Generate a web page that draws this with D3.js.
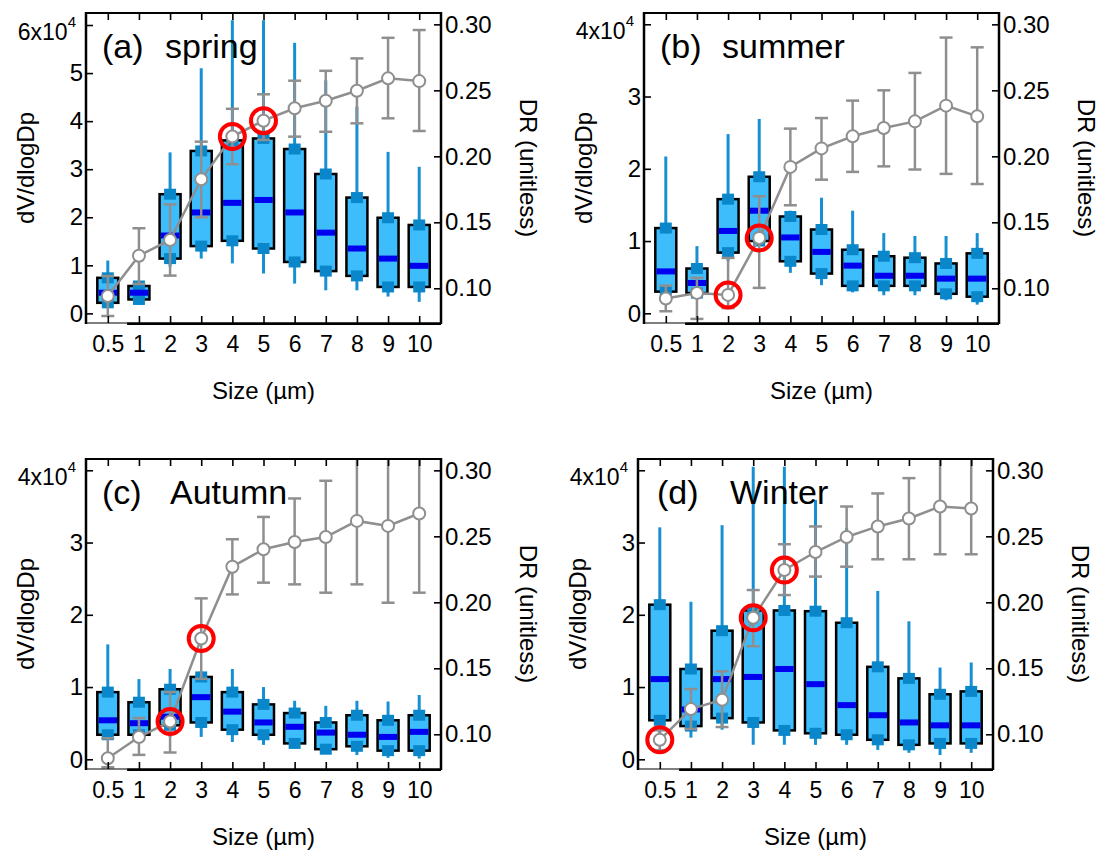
<!DOCTYPE html>
<html>
<head>
<meta charset="utf-8">
<script src="https://cdn.jsdelivr.net/npm/d3@7"></script>
<style>
  body { margin: 0; background: #fff; }
  text { font-family: "Liberation Sans", Arial, Helvetica, sans-serif; fill: #000; }
</style>
</head>
<body>
<svg id="chart" width="1101" height="854"></svg>
<script>
// Particle size bins (µm)
const sizes = ["0.5", "1", "2", "3", "4", "5", "6", "7", "8", "9", "10"];

// dV/dlogDp box statistics, in units of 10^4
const springLow  = [0.12, 0.18, 0.97, 1.14, 1.04, 0.83, 0.62, 0.48, 0.48, 0.35, 0.24];
const springQ1   = [0.22, 0.29, 1.14, 1.40, 1.51, 1.35, 1.07, 0.88, 0.78, 0.55, 0.55];
const springMed  = [0.43, 0.43, 1.62, 2.10, 2.30, 2.36, 2.10, 1.68, 1.35, 1.14, 0.99];
const springQ3   = [0.74, 0.57, 2.48, 3.38, 3.60, 3.64, 3.42, 2.90, 2.41, 1.99, 1.84];
const springHigh = [1.10, 0.66, 3.35, 5.10, 6.10, 6.10, 5.63, 4.85, 4.30, 3.36, 3.05];

const summerLow  = [0.20, 0.20, 0.72, 0.95, 0.56, 0.39, 0.29, 0.25, 0.25, 0.18, 0.12];
const summerQ1   = [0.30, 0.28, 0.84, 1.00, 0.72, 0.55, 0.38, 0.38, 0.38, 0.27, 0.23];
const summerMed  = [0.58, 0.42, 1.14, 1.42, 1.05, 0.85, 0.66, 0.52, 0.52, 0.48, 0.48];
const summerQ3   = [1.18, 0.62, 1.58, 1.89, 1.34, 1.16, 0.88, 0.79, 0.77, 0.69, 0.83];
const summerHigh = [2.17, 0.93, 2.48, 2.69, 1.42, 1.60, 1.42, 1.11, 1.07, 1.07, 1.11];

const autumnLow  = [0.27, 0.24, 0.31, 0.31, 0.24, 0.20, 0.17, 0.13, 0.06, 0.02, 0.01];
const autumnQ1   = [0.34, 0.34, 0.47, 0.51, 0.41, 0.34, 0.22, 0.14, 0.18, 0.12, 0.12];
const autumnMed  = [0.54, 0.50, 0.59, 0.86, 0.66, 0.51, 0.45, 0.37, 0.34, 0.31, 0.38];
const autumnQ3   = [0.93, 0.79, 0.97, 1.14, 0.93, 0.76, 0.64, 0.51, 0.61, 0.54, 0.61];
const autumnHigh = [1.59, 1.11, 1.25, 1.22, 1.25, 1.00, 0.81, 0.74, 0.81, 0.80, 0.89];

const winterLow  = [0.25, 0.30, 0.41, 0.20, 0.20, 0.20, 0.20, 0.13, 0.09, 0.06, 0.09];
const winterQ1   = [0.54, 0.46, 0.57, 0.51, 0.40, 0.36, 0.34, 0.27, 0.20, 0.22, 0.22];
const winterMed  = [1.11, 0.69, 1.11, 1.14, 1.25, 1.04, 0.75, 0.61, 0.51, 0.47, 0.47];
const winterQ3   = [2.14, 1.25, 1.78, 2.06, 2.06, 2.05, 1.89, 1.28, 1.12, 0.90, 0.94];
const winterHigh = [3.21, 2.18, 3.24, 4.05, 4.05, 3.59, 3.20, 2.33, 1.91, 1.27, 1.34];

// Depolarization ratio: mean and error-bar limits
const springDR   = [0.0942, 0.1247, 0.1366, 0.1826, 0.2150, 0.2270, 0.2364, 0.2421, 0.2497, 0.2591, 0.2570];
const springDRlo = [0.0790, 0.1033, 0.1096, 0.1538, 0.1940, 0.2124, 0.2149, 0.2186, 0.2250, 0.2288, 0.2192];
const springDRhi = [0.1093, 0.1455, 0.1636, 0.2111, 0.2360, 0.2470, 0.2573, 0.2648, 0.2742, 0.2898, 0.2957];

const summerDR   = [0.0922, 0.0965, 0.0950, 0.1382, 0.1920, 0.2060, 0.2152, 0.2215, 0.2265, 0.2384, 0.2303];
const summerDRlo = [0.0826, 0.0768, 0.0850, 0.1003, 0.1629, 0.1823, 0.1882, 0.1924, 0.1900, 0.1867, 0.1790];
const summerDRhi = [0.1020, 0.1079, 0.1230, 0.1697, 0.2210, 0.2290, 0.2422, 0.2500, 0.2632, 0.2900, 0.2826];

const autumnDR   = [0.0819, 0.0979, 0.1097, 0.1726, 0.2270, 0.2402, 0.2457, 0.2495, 0.2617, 0.2579, 0.2673];
const autumnDRlo = [0.0750, 0.0844, 0.0862, 0.1420, 0.2060, 0.2149, 0.2136, 0.2073, 0.2136, 0.1997, 0.2073];
const autumnDRhi = [0.0970, 0.1123, 0.1320, 0.2030, 0.2478, 0.2647, 0.2787, 0.2921, 0.3150, 0.3150, 0.3150];

const winterDR   = [0.0958, 0.1191, 0.1262, 0.1883, 0.2245, 0.2381, 0.2495, 0.2575, 0.2635, 0.2726, 0.2711];
const winterDRlo = [0.0880, 0.1040, 0.1055, 0.1667, 0.2055, 0.2195, 0.2270, 0.2326, 0.2326, 0.2364, 0.2364];
const winterDRhi = [0.1030, 0.1343, 0.1477, 0.2093, 0.2440, 0.2575, 0.2726, 0.2825, 0.2941, 0.3150, 0.3150];

// Size bins circled in red
const springMarked = ["4", "5"];
const summerMarked = ["2", "3"];
const autumnMarked = ["2", "3"];
const winterMarked = ["0.5", "3", "4"];

// Axis ticks
const drTicks = [0.10, 0.15, 0.20, 0.25, 0.30];
const springDvTicks = [0, 1, 2, 3, 4, 5, 6];
const dvTicks = [0, 1, 2, 3, 4];

const seasons = [
  { tag: "(a)", name: "spring", low: springLow, q1: springQ1, med: springMed, q3: springQ3, high: springHigh,
    dr: springDR, drLo: springDRlo, drHi: springDRhi, marked: springMarked, dvTicks: springDvTicks },
  { tag: "(b)", name: "summer", low: summerLow, q1: summerQ1, med: summerMed, q3: summerQ3, high: summerHigh,
    dr: summerDR, drLo: summerDRlo, drHi: summerDRhi, marked: summerMarked, dvTicks: dvTicks },
  { tag: "(c)", name: "Autumn", low: autumnLow, q1: autumnQ1, med: autumnMed, q3: autumnQ3, high: autumnHigh,
    dr: autumnDR, drLo: autumnDRlo, drHi: autumnDRhi, marked: autumnMarked, dvTicks: dvTicks },
  { tag: "(d)", name: "Winter", low: winterLow, q1: winterQ1, med: winterMed, q3: winterQ3, high: winterHigh,
    dr: winterDR, drLo: winterDRlo, drHi: winterDRhi, marked: winterMarked, dvTicks: dvTicks }
];

// Panel placement
const layout = [
  { x: 86,  y: 13,  dvDomain: [-0.2, 6.25],    tagX: 16, nameX: 79 },
  { x: 644, y: 13,  dvDomain: [-0.134, 4.156], tagX: 16, nameX: 78 },
  { x: 86,  y: 459, dvDomain: [-0.134, 4.156], tagX: 16, nameX: 84 },
  { x: 638, y: 459, dvDomain: [-0.134, 4.156], tagX: 19, nameX: 92 }
];

const W = 355, H = 310;
const boxFill = "#3DBDFC", squareFill = "#0A87CA", whiskerColor = "#1690D2",
      medianColor = "#0000F0", grey = "#8F8F8F", red = "#FF0000";

const svg = d3.select("#chart");

seasons.forEach((s, pi) => {
  const L = layout[pi];
  const g = svg.append("g").attr("transform", `translate(${L.x},${L.y})`);

  const x = d3.scalePoint().domain(sizes).range([0, W]).padding(0.7);
  const y = d3.scaleLinear().domain(L.dvDomain).range([H, 0]);
  const yDR = d3.scaleLinear().domain([0.0737, 0.3086]).range([H, 0]);

  const clipId = "clip" + pi;
  g.append("clipPath").attr("id", clipId)
    .append("rect").attr("x", 0).attr("y", 0).attr("width", W).attr("height", H);
  const plot = g.append("g").attr("clip-path", `url(#${clipId})`);

  const rows = sizes.map((k, i) => ({
    k, low: s.low[i], q1: s.q1[i], med: s.med[i], q3: s.q3[i], high: s.high[i],
    dr: s.dr[i], lo: s.drLo[i], hi: s.drHi[i]
  }));

  // whiskers
  plot.selectAll(".whisker").data(rows).enter().append("line")
    .attr("x1", d => x(d.k)).attr("x2", d => x(d.k))
    .attr("y1", d => y(d.low)).attr("y2", d => y(d.high))
    .attr("stroke", whiskerColor).attr("stroke-width", 3);

  // interquartile boxes
  const bw = 21;
  plot.selectAll(".box").data(rows).enter().append("rect")
    .attr("x", d => x(d.k) - bw / 2).attr("width", bw)
    .attr("y", d => y(d.q3)).attr("height", d => y(d.q1) - y(d.q3))
    .attr("fill", boxFill).attr("stroke", "#000").attr("stroke-width", 2.5);

  // quartile markers
  const sw = 12, sh = 11;
  ["q1", "q3"].forEach(q => {
    plot.selectAll(".sq" + q).data(rows).enter().append("rect")
      .attr("x", d => x(d.k) - sw / 2).attr("width", sw)
      .attr("y", d => y(d[q]) - sh / 2).attr("height", sh)
      .attr("fill", squareFill);
  });

  // medians
  plot.selectAll(".median").data(rows).enter().append("rect")
    .attr("x", d => x(d.k) - bw / 2 + 1.25).attr("width", bw - 2.5)
    .attr("y", d => y(d.med) - 3).attr("height", 6)
    .attr("fill", medianColor);

  // DR error bars
  const cap = 6.5;
  const eb = plot.selectAll(".err").data(rows).enter().append("g")
    .attr("stroke", grey).attr("stroke-width", 2.5).attr("fill", "none");
  eb.append("line").attr("x1", d => x(d.k)).attr("x2", d => x(d.k))
    .attr("y1", d => yDR(d.lo)).attr("y2", d => yDR(d.hi));
  eb.append("line").attr("x1", d => x(d.k) - cap).attr("x2", d => x(d.k) + cap)
    .attr("y1", d => yDR(d.lo)).attr("y2", d => yDR(d.lo));
  eb.append("line").attr("x1", d => x(d.k) - cap).attr("x2", d => x(d.k) + cap)
    .attr("y1", d => yDR(d.hi)).attr("y2", d => yDR(d.hi));

  // DR line and points
  plot.append("path").datum(rows)
    .attr("d", d3.line().x(d => x(d.k)).y(d => yDR(d.dr)))
    .attr("fill", "none").attr("stroke", grey).attr("stroke-width", 2.5);
  plot.selectAll(".pt").data(rows).enter().append("circle")
    .attr("cx", d => x(d.k)).attr("cy", d => yDR(d.dr)).attr("r", 6)
    .attr("fill", "#fff").attr("stroke", grey).attr("stroke-width", 2);

  // highlighted bins
  plot.selectAll(".mark").data(rows.filter(d => s.marked.includes(d.k))).enter().append("circle")
    .attr("cx", d => x(d.k)).attr("cy", d => yDR(d.dr)).attr("r", 12.5)
    .attr("fill", "none").attr("stroke", red).attr("stroke-width", 4);

  // axes
  const styleAxis = sel => {
    sel.select(".domain").remove();
    sel.selectAll(".tick line").attr("stroke", "#000").attr("stroke-width", 1.6);
    sel.selectAll(".tick text").attr("fill", "#000").style("font-family", '"Liberation Sans", Arial, sans-serif');
  };

  const topTick = s.dvTicks[s.dvTicks.length - 1];
  const left = g.append("g")
    .call(d3.axisLeft(y).tickValues(s.dvTicks).tickSizeInner(-7).tickSizeOuter(0).tickPadding(3)
      .tickFormat(v => v === topTick ? "" : String(v)))
    .call(styleAxis);
  left.selectAll(".tick text").style("font-size", "24px");

  // top label in scientific notation
  const sci = g.append("text").attr("x", -10).attr("y", y(topTick) + 15)
    .attr("text-anchor", "end").style("font-size", "23px");
  sci.append("tspan").text(topTick + "x10");
  sci.append("tspan").attr("dy", -13).style("font-size", "15px").text("4");

  const right = g.append("g").attr("transform", `translate(${W},0)`)
    .call(d3.axisRight(yDR).tickValues(drTicks).tickSizeInner(-7).tickSizeOuter(0).tickPadding(4)
      .tickFormat(d3.format(".2f")))
    .call(styleAxis);
  right.selectAll(".tick text").style("font-size", "24px");

  const bottom = g.append("g").attr("transform", `translate(0,${H})`)
    .call(d3.axisBottom(x).tickSizeInner(-7).tickSizeOuter(0).tickPadding(13))
    .call(styleAxis);
  bottom.selectAll(".tick text").style("font-size", "23px");

  g.append("g")
    .call(d3.axisTop(x).tickSizeInner(-7).tickSizeOuter(0).tickFormat(""))
    .call(styleAxis);

  // frame
  g.append("line").attr("x1", 0).attr("x2", W).attr("y1", 0).attr("y2", 0)
    .attr("stroke", "#000").attr("stroke-width", 2);
  g.append("line").attr("x1", 0).attr("x2", 0).attr("y1", -1).attr("y2", H + 1)
    .attr("stroke", "#000").attr("stroke-width", 2.5);
  g.append("line").attr("x1", W).attr("x2", W).attr("y1", -1).attr("y2", H + 1)
    .attr("stroke", "#000").attr("stroke-width", 2.5);
  g.append("line").attr("x1", 0).attr("x2", W).attr("y1", H).attr("y2", H)
    .attr("stroke", "#000").attr("stroke-width", 1);
  const xStart = x(sizes[0]) + x.step() * 0.62;
  g.append("line").attr("x1", xStart).attr("x2", W).attr("y1", H + 0.8).attr("y2", H + 0.8)
    .attr("stroke", "#000").attr("stroke-width", 2.6);

  // axis titles
  g.append("text").attr("transform", `translate(-60,${H / 2}) rotate(-90)`)
    .attr("text-anchor", "middle").attr("dy", "0.35em").style("font-size", "24px").text("dV/dlogDp");
  g.append("text").attr("transform", `translate(${W + 87},${H / 2}) rotate(90)`)
    .attr("text-anchor", "middle").attr("dy", "0.35em").style("font-size", "24px").text("DR (unitless)");
  g.append("text").attr("x", W / 2).attr("y", H + 76)
    .attr("text-anchor", "middle").style("font-size", "24px").text("Size (µm)");

  // panel label
  g.append("text").attr("x", L.tagX).attr("y", 45).style("font-size", "34px").text(s.tag);
  g.append("text").attr("x", L.nameX).attr("y", 45).style("font-size", "34px").text(s.name);
});
</script>
</body>
</html>
